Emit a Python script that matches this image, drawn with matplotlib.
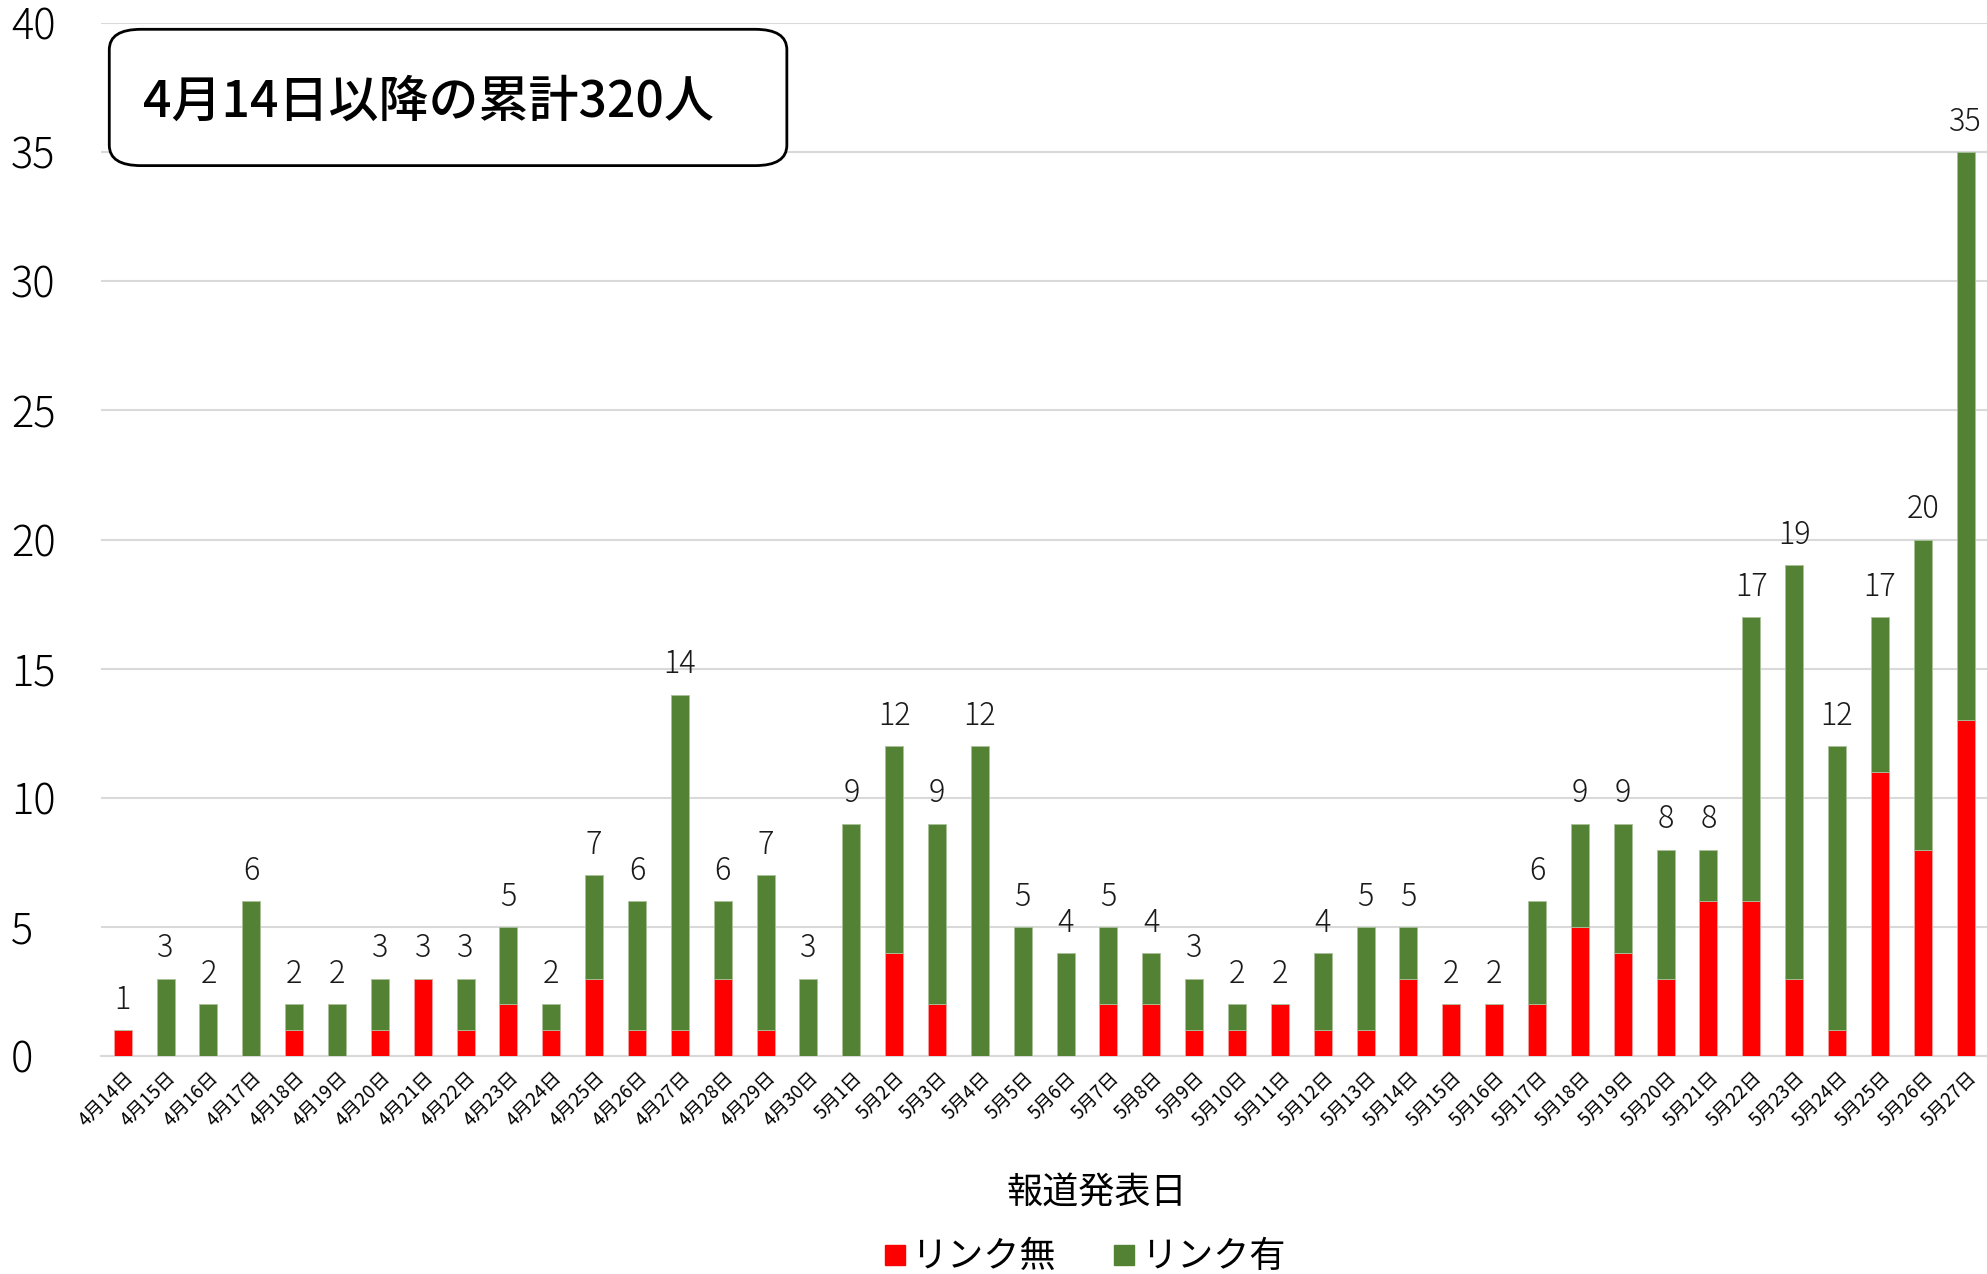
import numpy as np
import matplotlib
matplotlib.use("Agg")
import matplotlib.pyplot as plt
from matplotlib.lines import Line2D
from matplotlib.patches import FancyBboxPatch

plt.rcParams['font.family'] = ['Noto Sans CJK JP', 'DejaVu Sans']

# dates 4/14 - 5/27
dates = [f"4月{d}日" for d in range(14, 31)] + [f"5月{d}日" for d in range(1, 28)]

# link unknown (red) and link known (green)
no_link = [1, 0, 0, 0, 1, 0, 1, 3, 1, 2, 1, 3, 1, 1, 3, 1, 0,
           0, 4, 2, 0, 0, 0, 2, 2, 1, 1, 2, 1, 1, 3, 2, 2, 2, 5, 4, 3, 6, 6, 3, 1, 11, 8, 13]
with_link = [0, 3, 2, 6, 1, 2, 2, 0, 2, 3, 1, 4, 5, 13, 3, 6, 3,
             9, 8, 7, 12, 5, 4, 3, 2, 2, 1, 0, 3, 4, 2, 0, 0, 4, 4, 5, 5, 2, 11, 16, 11, 6, 12, 22]

red = "#FF0000"
green = "#548235"

x = np.arange(len(dates))
totals = np.array(no_link) + np.array(with_link)

fig = plt.figure(figsize=(19.87, 12.74), dpi=100)
ax = fig.add_axes([0.051, 0.171, 0.949, 0.811])

ax.bar(x, no_link, width=0.42, color=red, edgecolor="#f5a0a0", linewidth=0.6, zorder=3)
ax.bar(x, with_link, width=0.42, bottom=no_link, color=green, edgecolor="#a9c19a",
       linewidth=0.6, zorder=3)

# total labels on top of each bar
for xi, t in zip(x, totals):
    ax.text(xi, t + 0.55, str(t), ha="center", va="bottom", fontsize=22,
            fontweight="light", color="#1a1a1a")

ax.set_xlim(-0.5, len(dates) - 0.5)
ax.set_ylim(0, 40)
ax.set_yticks(range(0, 41, 5))
ax.tick_params(axis="y", labelsize=30, length=0, pad=65)
for lab in ax.get_yticklabels():
    lab.set_horizontalalignment("left")
    lab.set_fontweight("light")
ax.set_xticks(x)
ax.set_xticklabels(dates, rotation=45, ha="right", rotation_mode="anchor", fontsize=13.5)
ax.tick_params(axis="x", length=0, pad=8)

ax.grid(axis="y", color="#D9D9D9", linewidth=1.5, zorder=0)
for s in ["top", "right", "left"]:
    ax.spines[s].set_visible(False)
ax.spines["bottom"].set_color("#D9D9D9")
ax.spines["bottom"].set_linewidth(1.5)

# summary box
box = FancyBboxPatch((0.055, 0.870), 0.341, 0.107, boxstyle="round,pad=0,rounding_size=0.016",
                     transform=fig.transFigure, facecolor="white", edgecolor="black",
                     linewidth=2, zorder=5)
fig.patches.append(box)
fig.text(0.2155, 0.919, "4月14日以降の累計320人", ha="center", va="center",
         fontsize=36, fontweight="medium", zorder=6)

fig.text(0.552, 0.063, "報道発表日", ha="center", va="center", fontsize=26)

handles = [Line2D([], [], marker="s", linestyle="none", markersize=14, color=red),
           Line2D([], [], marker="s", linestyle="none", markersize=14, color=green)]
fig.legend(handles, ["リンク無", "リンク有"], loc="center", bbox_to_anchor=(0.545, 0.013),
           ncol=2, frameon=False, fontsize=26, handletextpad=0.05, columnspacing=1.5,
           handlelength=0.8)

fig.savefig("out.png", dpi=100)
